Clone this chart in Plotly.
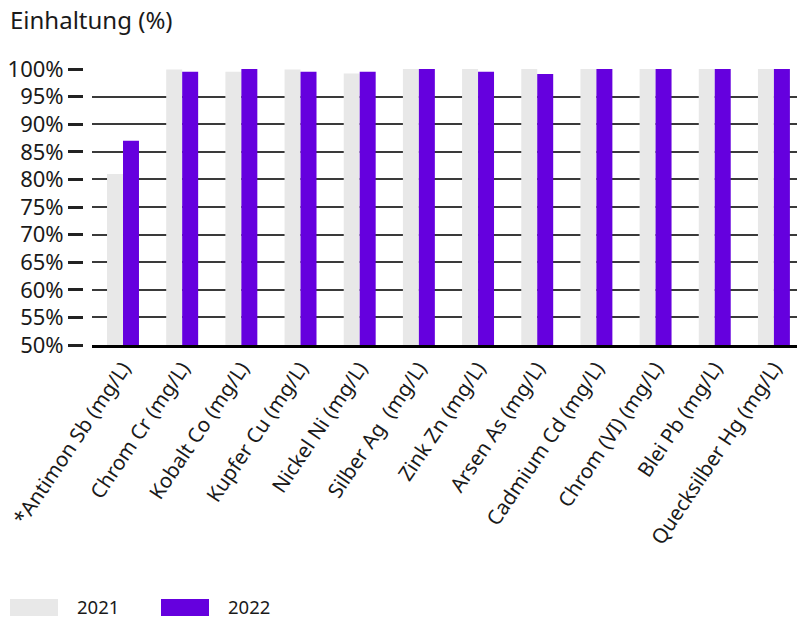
import plotly.graph_objects as go

# Compliance per parameter (%), 2021 vs 2022
categories = [
    "*Antimon Sb (mg/L)", "Chrom Cr (mg/L)", "Kobalt Co (mg/L)", "Kupfer Cu (mg/L)",
    "Nickel Ni (mg/L)", "Silber Ag  (mg/L)", "Zink Zn (mg/L)", "Arsen As (mg/L)",
    "Cadmium Cd (mg/L)", "Chrom (VI) (mg/L)", "Blei Pb (mg/L)", "Quecksilber Hg (mg/L)",
]
values_2021 = [81.0, 99.9, 99.5, 99.9, 99.2, 100.0, 100.0, 100.0, 100.0, 100.0, 100.0, 100.0]
values_2022 = [87.0, 99.5, 100.0, 99.5, 99.5, 100.0, 99.5, 99.1, 100.0, 100.0, 100.0, 100.0]
series_names = ["2021", "2022"]
tick_values = list(range(50, 101, 5))
tick_labels = [f"{v}%" for v in tick_values]

W, H = 797, 619
GRAY = "#e8e8e8"
PURPLE = "#6500de"
TEXT = "#1a1a1a"
FONT = "Noto Sans"

fig = go.Figure()
fig.add_trace(go.Bar(x=categories, y=values_2021, name=series_names[0],
                     marker=dict(color=GRAY, line=dict(width=0)), showlegend=False))
fig.add_trace(go.Bar(x=categories, y=values_2022, name=series_names[1],
                     marker=dict(color=PURPLE, line=dict(width=0)), showlegend=False))

plot_left = 92 / W
fig.update_layout(
    width=W, height=H,
    margin=dict(l=0, r=0, t=69, b=274, autoexpand=False),
    paper_bgcolor="white", plot_bgcolor="white",
    barmode="group", bargap=0.46, bargroupgap=0,
    font=dict(family=FONT, color=TEXT),
    xaxis=dict(
        domain=[plot_left, 1],
        range=[-0.524, 11.39],
        tickangle=-56,
        tickfont=dict(size=20.5, color=TEXT),
        showline=True, linecolor="#000", linewidth=3,
        showgrid=False, ticks="", automargin=False,
    ),
    yaxis=dict(
        range=[50, 100], tickvals=tick_values,
        showgrid=True, gridcolor="#3a3a3a", gridwidth=2,
        showticklabels=False, zeroline=False, ticks="", automargin=False,
    ),
    yaxis2=dict(
        overlaying="y", anchor="free", position=83 / W,
        range=[50, 100], tickvals=tick_values, ticktext=tick_labels,
        ticks="outside", ticklen=15, tickwidth=3, tickcolor="#222",
        tickfont=dict(size=22, color=TEXT),
        showgrid=False, zeroline=False, showline=False, automargin=False,
    ),
)

# keep the tick-label axis rendered
fig.add_trace(go.Scatter(x=[categories[0]], y=[None], yaxis="y2",
                         mode="markers", showlegend=False, hoverinfo="skip"))

# Title
fig.add_annotation(text="Einhaltung (%)", xref="paper", yref="paper",
                   x=8 / W, y=1 + (69 - 20) / 276, xanchor="left", yanchor="middle",
                   showarrow=False, font=dict(size=24, color=TEXT))

# Legend swatches and labels
def py(y_px):
    return (345 - y_px) / 276

for name, color, x0 in zip(series_names, [GRAY, PURPLE], [10, 161]):
    fig.add_shape(type="rect", xref="paper", yref="paper",
                  x0=x0 / W, x1=(x0 + 48) / W, y0=py(616), y1=py(599),
                  fillcolor=color, line=dict(width=0))
    fig.add_annotation(text=name, xref="paper", yref="paper",
                       x=(x0 + 66) / W, y=py(606), xanchor="left", yanchor="middle",
                       showarrow=False, borderpad=0, font=dict(size=18.5, color=TEXT))

fig.write_html("out.html")
